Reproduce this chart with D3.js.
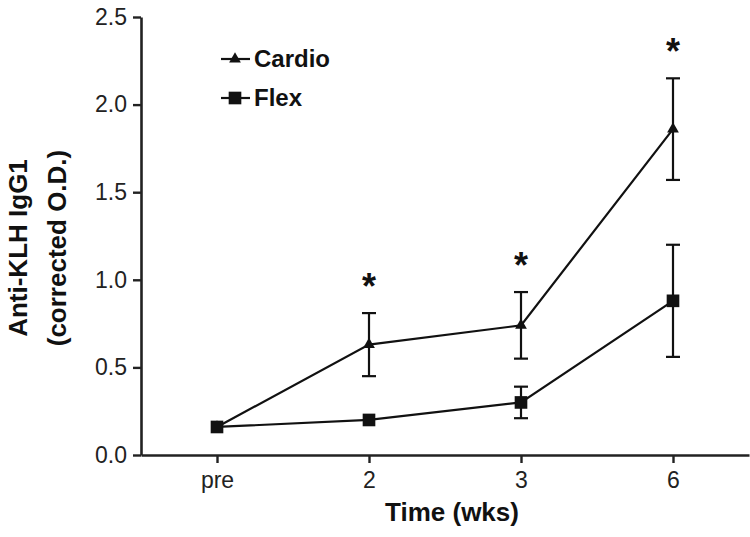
<!DOCTYPE html>
<html>
<head>
<meta charset="utf-8">
<script src="https://cdn.jsdelivr.net/npm/d3@7"></script>
<style>
  body { margin: 0; background: #fff; }
  svg { display: block; font-family: "Liberation Sans", Arial, Helvetica, sans-serif; }
</style>
</head>
<body>
<div id="chart"></div>
<script>
// values
const timepoints = ["pre", "2", "3", "6"];
const cardioMean = [0.16, 0.63, 0.74, 1.86];
const cardioSE = [0, 0.18, 0.19, 0.29];
const flexMean = [0.16, 0.20, 0.30, 0.88];
const flexSE = [0, 0, 0.09, 0.32];
const significant = [false, true, true, true];
const yTicks = [0, 0.5, 1.0, 1.5, 2.0, 2.5];

const w = 750;
const h = 537;
const ink = "#111";

const svg = d3.select("#chart").append("svg").attr("width", w).attr("height", h);

const xScale = d3.scaleLinear().domain([-0.5, 3.5]).range([141, 749]);
const yScale = d3.scaleLinear().domain([0, 2.5]).range([455, 17]);

const series = [
  { name: "Cardio", mean: cardioMean, se: cardioSE, symbol: d3.symbolTriangle, size: 60 },
  { name: "Flex", mean: flexMean, se: flexSE, symbol: d3.symbolSquare, size: 160 }
];

// axes
const yAxis = svg.append("g")
  .attr("transform", `translate(${xScale.range()[0]},0)`)
  .call(d3.axisLeft(yScale).tickValues(yTicks).tickFormat(d3.format(".1f"))
    .tickSize(8).tickSizeOuter(0).tickPadding(6));

const xAxis = svg.append("g")
  .attr("transform", `translate(0,${yScale(0)})`)
  .call(d3.axisBottom(xScale).tickValues(d3.range(timepoints.length))
    .tickFormat((i) => timepoints[i]).tickSize(8).tickSizeOuter(0).tickPadding(9));

[yAxis, xAxis].forEach((g) => {
  g.select(".domain").attr("stroke", "#222").attr("stroke-width", 2.6);
  g.selectAll(".tick line").attr("stroke", "#222").attr("stroke-width", 2.4);
  g.selectAll(".tick text").attr("fill", "#222").style("font-size", "23px").style("font-family", null);
});

// axis titles
svg.append("text")
  .attr("transform", "translate(27,248) rotate(-90)")
  .attr("text-anchor", "middle")
  .style("font-size", "26px").style("font-weight", "bold").attr("fill", ink)
  .text("Anti-KLH IgG1");
svg.append("text")
  .attr("transform", "translate(66,248) rotate(-90)")
  .attr("text-anchor", "middle")
  .style("font-size", "26px").style("font-weight", "bold").attr("fill", ink)
  .text("(corrected O.D.)");
svg.append("text")
  .attr("x", 452).attr("y", 521)
  .attr("text-anchor", "middle")
  .style("font-size", "26px").style("font-weight", "bold").attr("fill", ink)
  .text("Time (wks)");

const line = d3.line().x((d, i) => xScale(i)).y((d) => yScale(d));
const capHalf = 7;

series.forEach((s) => {
  const g = svg.append("g");
  const pts = s.mean.map((m, i) => ({ i, m, se: s.se[i] })).filter((d) => d.se > 0);

  g.selectAll(".eb").data(pts).enter().append("line")
    .attr("x1", (d) => xScale(d.i)).attr("x2", (d) => xScale(d.i))
    .attr("y1", (d) => yScale(d.m - d.se)).attr("y2", (d) => yScale(d.m + d.se))
    .attr("stroke", ink).attr("stroke-width", 2.2);
  ["top", "bottom"].forEach((end) => {
    g.selectAll(".cap-" + end).data(pts).enter().append("line")
      .attr("x1", (d) => xScale(d.i) - capHalf).attr("x2", (d) => xScale(d.i) + capHalf)
      .attr("y1", (d) => yScale(end === "top" ? d.m + d.se : d.m - d.se))
      .attr("y2", (d) => yScale(end === "top" ? d.m + d.se : d.m - d.se))
      .attr("stroke", ink).attr("stroke-width", 2.2);
  });

  g.append("path").datum(s.mean)
    .attr("d", line).attr("fill", "none").attr("stroke", ink).attr("stroke-width", 2.2);

  g.selectAll(".pt").data(s.mean).enter().append("path")
    .attr("transform", (d, i) => `translate(${xScale(i)},${yScale(d)})`)
    .attr("d", d3.symbol().type(s.symbol).size(s.size)())
    .attr("fill", ink);
});

// significance marks above the Cardio error bars
const starSize = 36;
svg.selectAll(".star")
  .data(cardioMean.map((m, i) => ({ i, top: m + cardioSE[i] })).filter((d) => significant[d.i]))
  .enter().append("text")
  .attr("x", (d) => xScale(d.i))
  .attr("y", (d) => yScale(d.top) - 35 + starSize * 0.575)
  .attr("text-anchor", "middle")
  .style("font-size", starSize + "px").style("font-weight", "bold").attr("fill", ink)
  .text("*");

// legend
const legend = svg.append("g");
series.forEach((s, k) => {
  const ly = 59 + k * 39;
  legend.append("line").attr("x1", 221).attr("x2", 250).attr("y1", ly).attr("y2", ly)
    .attr("stroke", ink).attr("stroke-width", 2.2);
  legend.append("path").attr("transform", `translate(235,${ly})`)
    .attr("d", d3.symbol().type(s.symbol).size(s.size)()).attr("fill", ink);
  legend.append("text").attr("x", 254).attr("y", ly + 7.5)
    .style("font-size", "24px").style("font-weight", "bold").attr("fill", ink)
    .text(s.name);
});
</script>
</body>
</html>
